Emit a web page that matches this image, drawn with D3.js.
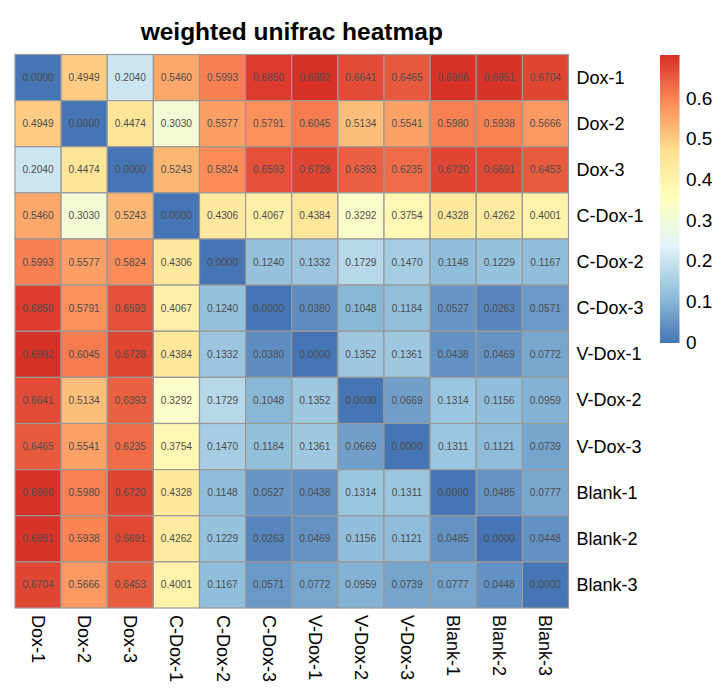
<!DOCTYPE html>
<html>
<head>
<meta charset="utf-8">
<script src="https://cdn.jsdelivr.net/npm/d3@7"></script>
<style>
  body { margin: 0; background: #fff; }
  svg { font-family: "Liberation Sans", Arial, Helvetica, sans-serif; }
</style>
</head>
<body>
<div id="chart"></div>
<script>
// sample names (rows and columns in the same order)
const samples = ["Dox-1", "Dox-2", "Dox-3", "C-Dox-1", "C-Dox-2", "C-Dox-3",
                 "V-Dox-1", "V-Dox-2", "V-Dox-3", "Blank-1", "Blank-2", "Blank-3"]

// weighted unifrac distances, one row per sample
const rowDox1   = [0.0000, 0.4949, 0.2040, 0.5460, 0.5993, 0.6850, 0.6992, 0.6641, 0.6465, 0.6966, 0.6951, 0.6704]
const rowDox2   = [0.4949, 0.0000, 0.4474, 0.3030, 0.5577, 0.5791, 0.6045, 0.5134, 0.5541, 0.5980, 0.5938, 0.5666]
const rowDox3   = [0.2040, 0.4474, 0.0000, 0.5243, 0.5824, 0.6593, 0.6728, 0.6393, 0.6235, 0.6720, 0.6691, 0.6453]
const rowCDox1  = [0.5460, 0.3030, 0.5243, 0.0000, 0.4306, 0.4067, 0.4384, 0.3292, 0.3754, 0.4328, 0.4262, 0.4001]
const rowCDox2  = [0.5993, 0.5577, 0.5824, 0.4306, 0.0000, 0.1240, 0.1332, 0.1729, 0.1470, 0.1148, 0.1229, 0.1167]
const rowCDox3  = [0.6850, 0.5791, 0.6593, 0.4067, 0.1240, 0.0000, 0.0380, 0.1048, 0.1184, 0.0527, 0.0263, 0.0571]
const rowVDox1  = [0.6992, 0.6045, 0.6728, 0.4384, 0.1332, 0.0380, 0.0000, 0.1352, 0.1361, 0.0438, 0.0469, 0.0772]
const rowVDox2  = [0.6641, 0.5134, 0.6393, 0.3292, 0.1729, 0.1048, 0.1352, 0.0000, 0.0669, 0.1314, 0.1156, 0.0959]
const rowVDox3  = [0.6465, 0.5541, 0.6235, 0.3754, 0.1470, 0.1184, 0.1361, 0.0669, 0.0000, 0.1311, 0.1121, 0.0739]
const rowBlank1 = [0.6966, 0.5980, 0.6720, 0.4328, 0.1148, 0.0527, 0.0438, 0.1314, 0.1311, 0.0000, 0.0485, 0.0777]
const rowBlank2 = [0.6951, 0.5938, 0.6691, 0.4262, 0.1229, 0.0263, 0.0469, 0.1156, 0.1121, 0.0485, 0.0000, 0.0448]
const rowBlank3 = [0.6704, 0.5666, 0.6453, 0.4001, 0.1167, 0.0571, 0.0772, 0.0959, 0.0739, 0.0777, 0.0448, 0.0000]

const legendTicks = [0, 0.1, 0.2, 0.3, 0.4, 0.5, 0.6]

const matrix = [rowDox1, rowDox2, rowDox3, rowCDox1, rowCDox2, rowCDox3,
                rowVDox1, rowVDox2, rowVDox3, rowBlank1, rowBlank2, rowBlank3]

const width = 727,
    height = 700

const grid = { left: 15, top: 54.5, size: 553.5 }

const svg = d3.select("#chart").append("svg")
    .attr("width", width)
    .attr("height", height)

const x = d3.scaleBand()
    .domain(samples)
    .range([grid.left, grid.left + grid.size])

const y = d3.scaleBand()
    .domain(samples)
    .range([grid.top, grid.top + grid.size])

// RdYlBu (7 classes) reversed, spread over the data range like pheatmap
const palette = ["#4575B4", "#91BFDB", "#E0F3F8", "#FFFFBF", "#FEE090", "#FC8D59", "#D73027"]
const maxVal = d3.max(matrix, r => d3.max(r))
const color = d3.scaleLinear()
    .domain(palette.map((c, i) => i / (palette.length - 1) * maxVal))
    .range(palette)
    .interpolate(d3.interpolateRgb)

const cells = []
matrix.forEach((row, i) => row.forEach((v, j) => cells.push({ r: samples[i], c: samples[j], v: v })))

svg.append("text")
    .attr("x", grid.left + grid.size / 2)
    .attr("y", 40)
    .attr("text-anchor", "middle")
    .attr("font-size", 24.5)
    .attr("font-weight", "bold")
    .text("weighted unifrac heatmap")

const cell = svg.append("g").selectAll("g")
    .data(cells)
    .join("g")

cell.append("rect")
    .attr("x", d => x(d.c))
    .attr("y", d => y(d.r))
    .attr("width", x.bandwidth())
    .attr("height", y.bandwidth())
    .attr("fill", d => color(d.v))
    .attr("stroke", "#999999")
    .attr("stroke-width", 1.2)

cell.append("text")
    .attr("x", d => x(d.c) + x.bandwidth() / 2)
    .attr("y", d => y(d.r) + y.bandwidth() / 2)
    .attr("text-anchor", "middle")
    .attr("dominant-baseline", "central")
    .attr("font-size", 10.2)
    .attr("fill", "#4d4d4d")
    .text(d => d.v.toFixed(4))

// row labels on the right
svg.append("g").selectAll("text")
    .data(samples)
    .join("text")
    .attr("x", grid.left + grid.size + 8)
    .attr("y", d => y(d) + y.bandwidth() / 2)
    .attr("dominant-baseline", "central")
    .attr("font-size", 18)
    .text(d => d)

// column labels underneath, turned to read downwards
svg.append("g").selectAll("text")
    .data(samples)
    .join("text")
    .attr("transform", d => `translate(${x(d) + x.bandwidth() / 2},${grid.top + grid.size + 7}) rotate(90)`)
    .attr("dominant-baseline", "central")
    .attr("font-size", 18)
    .text(d => d)

// colour legend
const ly = d3.scaleLinear()
    .domain([0, maxVal])
    .range([342, 58])

const defs = svg.append("defs")
const grad = defs.append("linearGradient")
    .attr("id", "legendGrad")
    .attr("x1", 0).attr("y1", 1)
    .attr("x2", 0).attr("y2", 0)
grad.selectAll("stop")
    .data(palette)
    .join("stop")
    .attr("offset", (d, i) => i / (palette.length - 1))
    .attr("stop-color", d => d)

svg.append("rect")
    .attr("x", 660)
    .attr("y", ly(maxVal) - 3)
    .attr("width", 19.5)
    .attr("height", ly(0) - ly(maxVal) + 4)
    .attr("fill", "url(#legendGrad)")

svg.append("g").selectAll("text")
    .data(legendTicks)
    .join("text")
    .attr("x", 686)
    .attr("y", d => ly(d))
    .attr("dominant-baseline", "central")
    .attr("font-size", 19)
    .text(d => d3.format("")(d))
</script>
</body>
</html>
